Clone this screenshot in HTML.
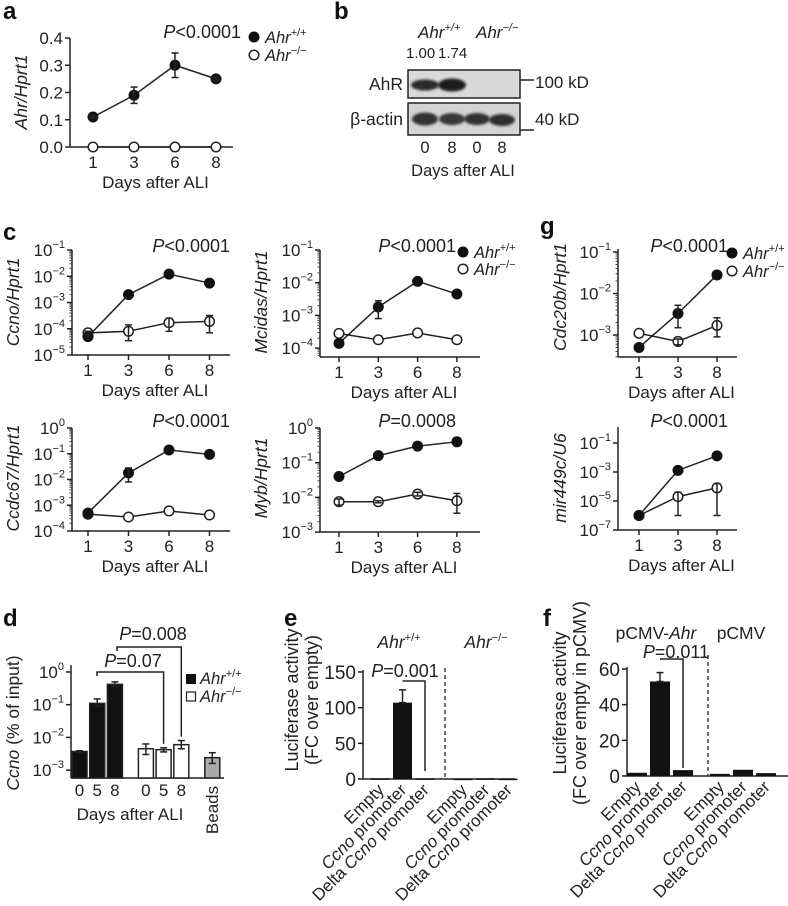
<!DOCTYPE html>
<html><head><meta charset="utf-8"><style>
html,body{margin:0;padding:0;background:#fff;}
svg{display:block;font-family:"Liberation Sans",Arial,sans-serif;}
text{fill:#222;}
.tk{font-size:16.5px;}
.it{font-style:italic;}
.lt{font-weight:bold;font-size:24px;fill:#111;}
.ax{stroke:#222;stroke-width:1.5;fill:none;}
</style></head><body>
<svg id="fig" width="788" height="906" viewBox="0 0 788 906" xmlns="http://www.w3.org/2000/svg">
<text class="lt" x="3" y="19">a</text>
<text class="lt" x="334" y="19">b</text>
<text class="lt" x="3" y="240">c</text>
<text class="lt" x="540" y="234">g</text>
<text class="lt" x="3" y="626">d</text>
<text class="lt" x="284" y="626">e</text>
<text class="lt" x="543" y="626">f</text>

<g>
<defs><filter id="blur" x="-20%" y="-50%" width="140%" height="200%"><feGaussianBlur stdDeviation="1.2"/></filter></defs>
<text x="418" y="38" style="font-size:17px;font-style:italic">Ahr<tspan style="font-size:11px" dy="-7">+/+</tspan></text>
<text x="476" y="38" style="font-size:17px;font-style:italic">Ahr<tspan style="font-size:11px" dy="-7">−/−</tspan></text>
<text x="406" y="58" style="font-size:15px">1.00</text>
<text x="438" y="58" style="font-size:15px">1.74</text>
<rect x="408" y="70" width="112" height="28" fill="#d9d9d9" stroke="#222" stroke-width="1.5"/>
<rect x="408" y="103" width="112" height="32" fill="#d4d4d4" stroke="#222" stroke-width="1.5"/>
<ellipse cx="425" cy="85" rx="14" ry="5.5" fill="#2a2a2a" filter="url(#blur)"/>
<ellipse cx="452" cy="85" rx="14" ry="6.5" fill="#1e1e1e" filter="url(#blur)"/>
<ellipse cx="425" cy="119" rx="13" ry="6.5" fill="#333" filter="url(#blur)"/>
<ellipse cx="452" cy="119" rx="13" ry="6" fill="#383838" filter="url(#blur)"/>
<ellipse cx="477" cy="119" rx="13" ry="6" fill="#333" filter="url(#blur)"/>
<ellipse cx="502" cy="120" rx="13" ry="6" fill="#2e2e2e" filter="url(#blur)"/>
<text x="403" y="90" style="font-size:17.5px" text-anchor="end">AhR</text>
<text x="403" y="125" style="font-size:17.5px" text-anchor="end">β-actin</text>
<line x1="520" y1="80" x2="534" y2="80" class="ax"/>
<line x1="520" y1="130" x2="534" y2="130" class="ax"/>
<text x="535" y="88" style="font-size:17px">100 kD</text>
<text x="535" y="125" style="font-size:17px">40 kD</text>
<text class="tk" x="425" y="153" text-anchor="middle">0</text>
<text class="tk" x="452" y="153" text-anchor="middle">8</text>
<text class="tk" x="477" y="153" text-anchor="middle">0</text>
<text class="tk" x="502" y="153" text-anchor="middle">8</text>
<text class="tk" x="463" y="176" text-anchor="middle">Days after ALI</text>
</g>
</svg>
<script>
const daysA=['1','3','6','8'];
const aWT=[0.11,0.19,0.30,0.25];
const aWTerr=[0.005,0.03,0.045,0.005];
const aKO=[0,0,0,0];
const aTicks=['0.0','0.1','0.2','0.3','0.4'];

const days4=['1','3','6','8'];
const days3=['1','3','8'];
const ccnoWT=[5e-5,2e-3,1.2e-2,5.5e-3];
const ccnoKO=[7e-5,8e-5,1.7e-4,1.9e-4];
const ccnoKOlo=[6e-5,3.5e-5,8e-5,7e-5];
const ccnoKOhi=[8e-5,1.4e-4,2.5e-4,3.2e-4];
const mcidasWT=[1.4e-4,1.8e-3,1.1e-2,4.5e-3];
const mcidasWTlo=[1.4e-4,8e-4,1.1e-2,4.5e-3];
const mcidasWThi=[1.4e-4,2.8e-3,1.1e-2,4.5e-3];
const mcidasKO=[2.8e-4,1.8e-4,2.9e-4,1.8e-4];
const cdcWT=[5e-4,3.3e-3,2.8e-2];
const cdcWTlo=[5e-4,1.5e-3,2.8e-2];
const cdcWThi=[5e-4,5.2e-3,2.8e-2];
const cdcKO=[1.1e-3,7e-4,1.7e-3];
const cdcKOlo=[1.1e-3,5.8e-4,9e-4];
const cdcKOhi=[1.1e-3,8e-4,2.6e-3];
const ccdcWT=[5e-4,1.8e-2,1.4e-1,9.5e-2];
const ccdcWTlo=[5e-4,8e-3,1.4e-1,9.5e-2];
const ccdcWThi=[5e-4,2.8e-2,1.4e-1,9.5e-2];
const ccdcKO=[4.5e-4,3.5e-4,6e-4,4.2e-4];
const mybWT=[0.04,0.16,0.30,0.40];
const mybKO=[7.5e-3,7.5e-3,1.25e-2,8e-3];
const mybKOlo=[6e-3,7e-3,1.1e-2,3.5e-3];
const mybKOhi=[9e-3,8e-3,1.4e-2,1.3e-2];
const mirWT=[1e-6,1.3e-3,1.3e-2];
const mirKO=[1e-6,2e-5,8e-5];
const mirKOlo=[1e-6,1e-6,1e-6];
const mirKOhi=[1e-6,4e-5,1.6e-4];

const dCats=['0','5','8','0','5','8'];
const dGroup=[0,0,0,1,1,1,2];
const dVals=[3.7e-3,0.11,0.42,4.5e-3,4.2e-3,6e-3,2.4e-3];
const dLo=[3.5e-3,0.09,0.36,3e-3,3.6e-3,4.5e-3,1.6e-3];
const dHi=[3.9e-3,0.15,0.50,6.3e-3,4.8e-3,8e-3,3.4e-3];
const dExp=[0,-1,-2,-3];

const lucCats=['Empty','Ccno promoter','Delta Ccno promoter','Empty','Ccno promoter','Delta Ccno promoter'];
const lucGroup=[0,0,0,1,1,1];
const eVals=[1,107,1,0.5,1,0.5];
const eHi=[1,125,1,0.5,1,0.5];
const eTicks=[0,50,100,150];
const fVals=[1.8,53,3.3,1.2,3.5,1.6];
const fHi=[2.1,58,3.6,1.5,3.8,1.9];
const fTicks=[0,20,40,60];

const NS='http://www.w3.org/2000/svg';
const svg=document.getElementById('fig');
function el(tag,attrs,nm,parent){
  const e=document.createElementNS(NS,tag);
  for(const k in attrs)e.setAttribute(k,attrs[k]);
  
  
  (parent||svg).appendChild(e);return e;
}
function txt(x,y,s,cls,anchor,nm,extra){
  const a=Object.assign({x:x,y:y,class:cls||'tk','text-anchor':anchor||'start'},extra||{});
  if(a['font-size']){a.style='font-size:'+a['font-size']+'px';delete a['font-size'];}
  const t=el('text',a,nm);
  t.innerHTML=s;return t;
}
function pow(e){return '10<tspan style="font-size:11px" dy="-8">'+(e<0?'−'+(-e):e)+'</tspan>';}
function sup(s){return '<tspan style="font-size:11px" dy="-7">'+s+'</tspan>';}
function ahr(s){return '<tspan font-style="italic">Ahr</tspan>'+sup(s);}

function errBar(x,y1,y2,nm){
  el('line',{x1:x,y1:y1,x2:x,y2:y2,stroke:'#222','stroke-width':1.5},nm);
  el('line',{x1:x-3.5,y1:y1,x2:x+3.5,y2:y1,stroke:'#222','stroke-width':1.5},nm+'-cap');
  el('line',{x1:x-3.5,y1:y2,x2:x+3.5,y2:y2,stroke:'#222','stroke-width':1.5},nm+'-cap');
}

function linePanel(p){
  const g=el('g',{},p.name);
  el('line',{x1:p.ax,y1:p.top,x2:p.ax,y2:p.bottom,class:'ax'},p.name+'-y-axis',g);
  el('line',{x1:p.ax,y1:p.bottom,x2:p.xEnd,y2:p.bottom,class:'ax'},p.name+'-x-axis',g);
  const X=i=>p.x0+i*p.step;
  p.cats.forEach((c,i)=>{
    el('line',{x1:X(i),y1:p.bottom,x2:X(i),y2:p.bottom+5,class:'ax'},p.name+'-x-tick',g);
    txt(X(i),p.bottom+21,c,'tk','middle',p.name+'-x-tick-label',{'font-size':17});
  });
  txt((p.ax+p.xEnd)/2+4,p.bottom+41,'Days after ALI','tk','middle',p.name+'-x-title',{'font-size':17});
  p.yTicks.forEach(t=>{
    const y=p.Y(t.v);
    el('line',{x1:p.ax-5,y1:y,x2:p.ax,y2:y,class:'ax'},p.name+'-y-tick',g);
    txt(p.ax-7,y+6,t.s,'tk','end',p.name+'-y-tick-label',{'font-size':17});
  });
  if(p.minor){for(let e=p.minor[0];e<p.minor[1];e++){for(let m=2;m<10;m++){const v=m*Math.pow(10,e);const y=p.Y(v);if(y>=p.top&&y<=p.bottom)el('line',{x1:p.ax-2.5,y1:y,x2:p.ax,y2:y,stroke:'#444','stroke-width':1},p.name+'-minor-tick',g);}}}
  txt(0,0,p.ylabel,'tk','middle',p.name+'-y-title',{transform:'translate('+p.ylx+','+p.yly+') rotate(-90)','font-size':17.5});
  [['ko',p.ko,p.koLo,p.koHi,false],['wt',p.wt,p.wtLo,p.wtHi,true]].forEach(s=>{
    const vals=s[1];
    const pts=vals.map((v,i)=>X(i)+','+p.Y(v)).join(' ');
    el('polyline',{points:pts,fill:'none',stroke:'#222','stroke-width':1.5},p.name+'-'+s[0]+'-line',g);
    vals.forEach((v,i)=>{
      if(s[2]&&s[3]&&(s[2][i]!==v||s[3][i]!==v))errBar(X(i),p.Y(s[3][i]),p.Y(s[2][i]),p.name+'-'+s[0]+'-error');
    });
    vals.forEach((v,i)=>{
      if(s[4])el('circle',{cx:X(i),cy:p.Y(v),r:5.5,fill:'#111'},p.name+'-wt-point',g);
      else el('circle',{cx:X(i),cy:p.Y(v),r:4.8,fill:'#fff',stroke:'#222','stroke-width':1.5},p.name+'-ko-point',g);
    });
  });
  txt(p.px,p.py,p.ptxt,'tk','end',p.name+'-p-value',{'font-size':18});
  if(p.legend){
    el('circle',{cx:p.legend[0],cy:p.legend[1],r:5.5,fill:'#111'},p.name+'-legend-wt-marker',g);
    el('circle',{cx:p.legend[0],cy:p.legend[1]+p.legend[2],r:4.8,fill:'#fff',stroke:'#222','stroke-width':1.5},p.name+'-legend-ko-marker',g);
    txt(p.legend[0]+11,p.legend[1]+6,ahr('+/+'),'tk','start',p.name+'-legend-wt');
    txt(p.legend[0]+11,p.legend[1]+p.legend[2]+6,ahr('−/−'),'tk','start',p.name+'-legend-ko');
  }
}
function logY(yRef,eRef,ppd){return v=>yRef+(eRef-Math.log10(v))*ppd;}
function logTicks(exps){return exps.map(e=>({v:Math.pow(10,e),s:pow(e)}));}

const P_LT='<tspan font-style="italic">P</tspan>&lt;0.0001';

(function(){
  const Y=v=>147-v/0.4*109;
  linePanel({name:'panel-a',ax:70,top:38,bottom:147,xEnd:233,x0:93,step:41,cats:daysA,
    Y:Y,yTicks:aTicks.map(s=>({v:parseFloat(s),s:s})),ylabel:'<tspan font-style="italic">Ahr/Hprt1</tspan>',ylx:27,yly:92,
    wt:aWT,wtLo:aWT.map((v,i)=>v-aWTerr[i]),wtHi:aWT.map((v,i)=>v+aWTerr[i]),ko:aKO,
    px:241,py:38,ptxt:P_LT,legend:[254,37,18]});
})();

const Yc=logY(250,-1,26.25);
linePanel({name:'panel-ccno',ax:72,top:250,bottom:355,xEnd:230,x0:88,step:40.5,cats:days4,Y:Yc,
  yTicks:logTicks([-1,-2,-3,-4,-5]),minor:[-5,-1],ylabel:'<tspan font-style="italic">Ccno/Hprt1</tspan>',ylx:19,yly:302,
  wt:ccnoWT,ko:ccnoKO,koLo:ccnoKOlo,koHi:ccnoKOhi,px:230,py:252,ptxt:P_LT});

const Ym=logY(250,-1,32.7);
linePanel({name:'panel-mcidas',ax:320,top:250,bottom:357,xEnd:480,x0:339,step:39.3,cats:days4,Y:Ym,
  yTicks:logTicks([-1,-2,-3,-4]),minor:[-5,-1],ylabel:'<tspan font-style="italic">Mcidas/Hprt1</tspan>',ylx:267,yly:302,
  wt:mcidasWT,wtLo:mcidasWTlo,wtHi:mcidasWThi,ko:mcidasKO,px:456,py:252,ptxt:P_LT,legend:[463,252,17]});

const Yg=logY(252,-1,41.5);
linePanel({name:'panel-cdc20b',ax:618,top:249,bottom:357,xEnd:737,x0:639,step:39,cats:days3,Y:Yg,
  yTicks:logTicks([-1,-2,-3]),minor:[-4,-1],ylabel:'<tspan font-style="italic">Cdc20b/Hprt1</tspan>',ylx:566,yly:297,
  wt:cdcWT,wtLo:cdcWTlo,wtHi:cdcWThi,ko:cdcKO,koLo:cdcKOlo,koHi:cdcKOhi,px:728,py:252,ptxt:P_LT,legend:[732,253,18]});

const Yd67=logY(428,0,25.75);
linePanel({name:'panel-ccdc67',ax:72,top:428,bottom:531,xEnd:230,x0:88,step:40.5,cats:days4,Y:Yd67,
  yTicks:logTicks([0,-1,-2,-3,-4]),minor:[-4,0],ylabel:'<tspan font-style="italic">Ccdc67/Hprt1</tspan>',ylx:19,yly:478,
  wt:ccdcWT,wtLo:ccdcWTlo,wtHi:ccdcWThi,ko:ccdcKO,px:230,py:427,ptxt:P_LT});

const Yy=logY(428,0,34.7);
linePanel({name:'panel-myb',ax:320,top:428,bottom:532,xEnd:480,x0:339,step:39.3,cats:days4,Y:Yy,
  yTicks:logTicks([0,-1,-2,-3]),minor:[-3,0],ylabel:'<tspan font-style="italic">Myb/Hprt1</tspan>',ylx:267,yly:478,
  wt:mybWT,ko:mybKO,koLo:mybKOlo,koHi:mybKOhi,px:456,py:427,ptxt:'<tspan font-style="italic">P</tspan>=0.0008'});

const Yr=logY(443,-1,14.5);
linePanel({name:'panel-mir449c',ax:618,top:427,bottom:530,xEnd:737,x0:639,step:39,cats:days3,Y:Yr,
  yTicks:logTicks([-1,-3,-5,-7]),ylabel:'<tspan font-style="italic">mir449c/U6</tspan>',ylx:566,yly:478,
  wt:mirWT,ko:mirKO,koLo:mirKOlo,koHi:mirKOhi,px:728,py:427,ptxt:P_LT});

(function(){
  const Y=logY(672,0,32.7), base=778, ax=71;
  const X=i=>72+i*17.7+dGroup[i]*13.3;
  el('line',{x1:ax,y1:665,x2:ax,y2:base,class:'ax'},'panel-d-y-axis');
  el('line',{x1:ax,y1:base,x2:224,y2:base,class:'ax'},'panel-d-x-axis');
  dExp.forEach(e=>{const y=Y(Math.pow(10,e));
    el('line',{x1:ax-5,y1:y,x2:ax,y2:y,class:'ax'},'panel-d-y-tick');
    txt(ax-7,y+6,pow(e),'tk','end','panel-d-y-tick-label',{'font-size':17});});
  dVals.forEach((v,i)=>{
    const fill=dGroup[i]===0?'#111':(dGroup[i]===1?'#fff':'#aaa');
    el('rect',{x:X(i),y:Y(v),width:15,height:base-Y(v),fill:fill,stroke:'#222','stroke-width':1.5},'panel-d-bar');
    errBar(X(i)+7.5,Y(dHi[i]),Y(dLo[i]),'panel-d-error');
  });
  dCats.forEach((c,i)=>txt(X(i)+7.5,796,c,'tk','middle','panel-d-x-tick-label',{'font-size':17}));
  txt(130,820,'Days after ALI','tk','middle','panel-d-x-title',{'font-size':17});
  txt(0,0,'Beads','tk','middle','panel-d-beads-label',{transform:'translate('+(X(6)+13)+',810) rotate(-90)','font-size':17});
  txt(0,0,'<tspan font-style="italic">Ccno</tspan> (% of input)','tk','middle','panel-d-y-title',{transform:'translate(19,723) rotate(-90)','font-size':17.5});
  const b1x=X(4)+7.5,b2x=X(5)+7.5;
  el('polyline',{points:'97,676 97,672 '+b1x+',672 '+b1x+','+(Y(dHi[4])-4),fill:'none',stroke:'#222','stroke-width':1.5},'panel-d-bracket-007');
  el('polyline',{points:'117,651 117,647 '+b2x+',647 '+b2x+','+(Y(dHi[5])-4),fill:'none',stroke:'#222','stroke-width':1.5},'panel-d-bracket-008');
  txt(133,667,'<tspan font-style="italic">P</tspan>=0.07','tk','middle','panel-d-p-007',{'font-size':18});
  txt(153,640,'<tspan font-style="italic">P</tspan>=0.008','tk','middle','panel-d-p-008',{'font-size':18});
  el('rect',{x:186,y:674,width:10,height:10,fill:'#111'},'panel-d-legend-wt-marker');
  el('rect',{x:186.5,y:692,width:9,height:9,fill:'#fff',stroke:'#222','stroke-width':1.2},'panel-d-legend-ko-marker');
  txt(200,684,ahr('+/+'),'tk','start','panel-d-legend-wt');
  txt(200,702,ahr('−/−'),'tk','start','panel-d-legend-ko');
})();

function lucPanel(p){
  const X=i=>p.x0+i*p.step+lucGroup[i]*p.gap;
  const Y=v=>p.base-v*p.ppu;
  el('line',{x1:p.ax,y1:Y(p.ticks[p.ticks.length-1])-2,x2:p.ax,y2:p.base,class:'ax'},p.name+'-y-axis');
  el('line',{x1:p.ax,y1:p.base,x2:p.xEnd,y2:p.base,class:'ax'},p.name+'-x-axis');
  p.ticks.forEach(t=>{const y=Y(t);
    el('line',{x1:p.ax-5,y1:y,x2:p.ax,y2:y,class:'ax'},p.name+'-y-tick');
    txt(p.ax-7,y+7,String(t),'tk','end',p.name+'-y-tick-label',{'font-size':19});});
  p.vals.forEach((v,i)=>{
    el('rect',{x:X(i)-p.bw/2,y:Y(v),width:p.bw,height:Math.max(1.5,v*p.ppu),fill:'#111'},p.name+'-bar');
    if(p.hi[i]-v>1)errBar(X(i),Y(p.hi[i]),Y(v),p.name+'-error');
  });
  lucCats.forEach((c,i)=>{
    const lab=c.replace('Ccno','<tspan font-style="italic">Ccno</tspan>');
    txt(0,0,lab,'tk','end',p.name+'-x-tick-label',{transform:'translate('+(X(i)+5)+','+(p.base+12)+') rotate(-45)','font-size':17});
  });
  el('line',{x1:p.dash,y1:p.dashTop,x2:p.dash,y2:p.base,stroke:'#222','stroke-width':1.3,'stroke-dasharray':'4,3'},p.name+'-divider');
  el('polyline',{points:X(1)+','+p.brY+' '+X(2)+','+p.brY+' '+X(2)+','+(p.base-8),fill:'none',stroke:'#222','stroke-width':1.5},p.name+'-bracket');
  txt(p.pX,p.pY,p.ptxt,'tk','middle',p.name+'-p-value',{'font-size':18});
  txt(0,0,'Luciferase activity','tk','middle',p.name+'-y-title-1',{transform:'translate('+p.yl1+','+p.yly+') rotate(-90)','font-size':18});
  txt(0,0,p.yt2,'tk','middle',p.name+'-y-title-2',{transform:'translate('+p.yl2+','+p.yly+') rotate(-90)','font-size':18});
  txt(p.h1[0],p.h1[1],p.h1[2],'tk','middle',p.name+'-group-1-header',{'font-size':17.5});
  txt(p.h2[0],p.h2[1],p.h2[2],'tk','middle',p.name+'-group-2-header',{'font-size':17.5});
}
lucPanel({name:'panel-e',ax:363,base:779,xEnd:515,ppu:107/150,x0:380,step:22.5,gap:15.5,bw:19,vals:eVals,hi:eHi,ticks:eTicks,
  dash:445,dashTop:668,brY:681,pX:405,pY:677,ptxt:'<tspan font-style="italic">P</tspan>=0.001',
  yl1:298,yl2:318,yly:700,yt2:'(FC over empty)',h1:[399,648,ahr('+/+')],h2:[486,648,ahr('−/−')]});
lucPanel({name:'panel-f',ax:627,base:776,xEnd:788,ppu:107/60,x0:637,step:23,gap:14,bw:20,vals:fVals,hi:fHi,ticks:fTicks,
  dash:708,dashTop:655,brY:659,pX:676,pY:658,ptxt:'<tspan font-style="italic">P</tspan>=0.011',
  yl1:566,yl2:586,yly:703,yt2:'(FC over empty in pCMV)',h1:[656,639,'pCMV-<tspan font-style="italic">Ahr</tspan>'],h2:[741,639,'pCMV']});
</script>
</body></html>
